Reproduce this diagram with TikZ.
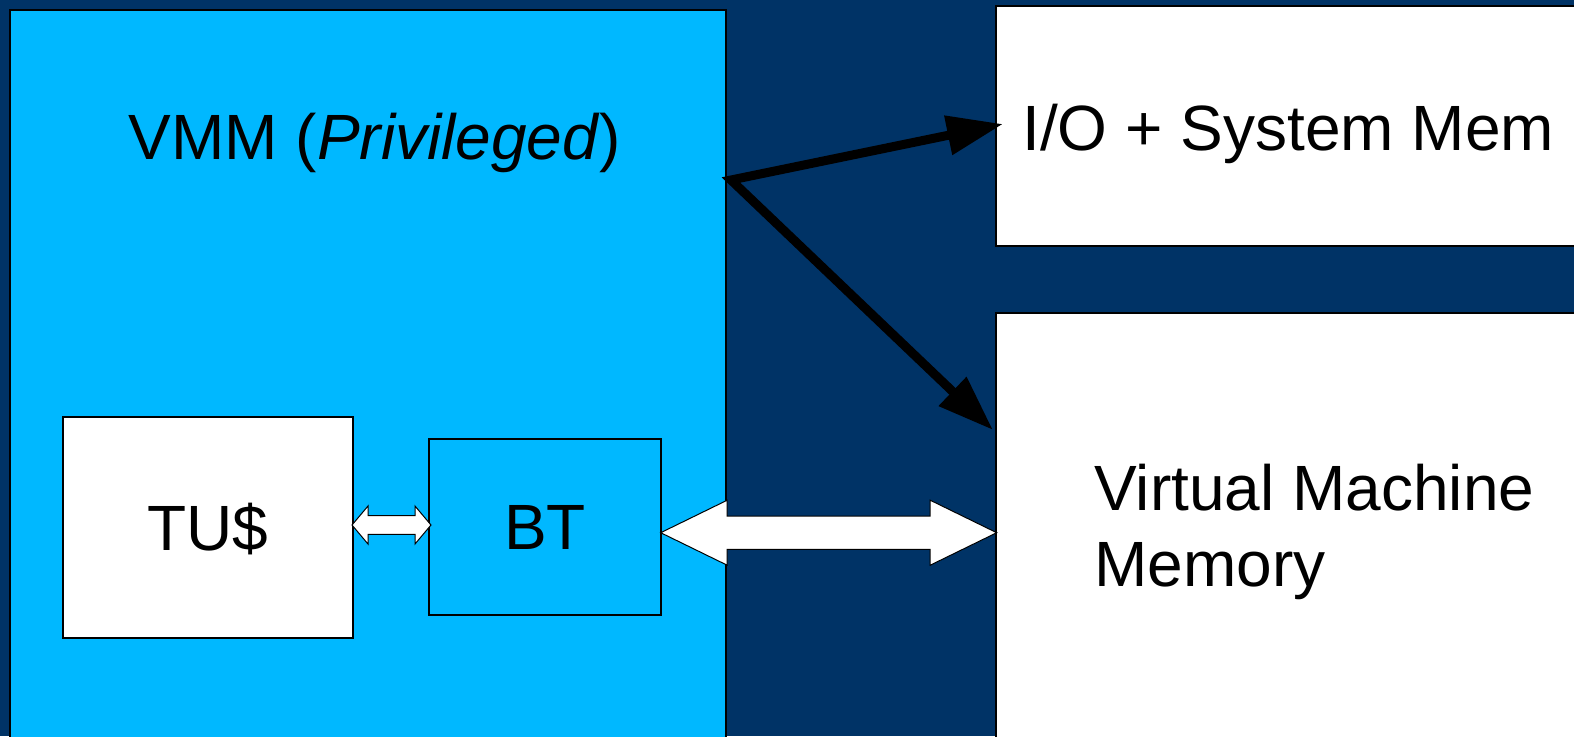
\documentclass[tikz,border=0pt]{standalone}
\usepackage{fontspec}
\setmainfont{Liberation Sans}
\usetikzlibrary{arrows.meta,calc}
\definecolor{navy}{RGB}{0,51,102}
\definecolor{skyc}{RGB}{0,184,255}
\newcommand\dblarr[5]{\draw[warrow] (#1) -- ($(#1)+(#3,#4)$) -- ($(#1)+(#3,#5)$) -- ($(#2)+(-#3,#5)$) -- ($(#2)+(-#3,#4)$) -- (#2) -- ($(#2)+(-#3,-#4)$) -- ($(#2)+(-#3,-#5)$) -- ($(#1)+(#3,-#5)$) -- ($(#1)+(#3,-#4)$) -- cycle;}
\begin{document}
\begin{tikzpicture}[x=0.5pt,y=-0.5pt,
  box/.style={draw=black,line width=0.7pt,anchor=north west,inner sep=0pt,outer sep=0pt},
  big/.style={font=\fontsize{32}{38}\selectfont,inner sep=0pt},
  capbox/.style={text height=22.9pt,text depth=0pt},
  warrow/.style={draw=black,line width=0.5pt,fill=white,line join=miter},
  blk/.style={line width=4.5pt,line join=miter,{Triangle[length=28pt,width=19pt]}-{Triangle[length=28pt,width=19pt]}}]
\fill[navy] (0,0) rectangle (1574,736);
\useasboundingbox (0,0) rectangle (1574,736);
% VMM box
\node[box,fill=skyc,minimum width=358pt,minimum height=380pt] (vmm) at (10,10) {};
\node[big,anchor=base] (vmmlabel) at (375,159.3) {VMM (\textit{Privileged})};
% TU$ and BT
\node[box,fill=white,minimum width=145pt,minimum height=110.5pt] (tus) at (63,417) {};
\node[big,capbox] (tustext) at (tus.center) {TU\$};
\node[box,fill=skyc,minimum width=116pt,minimum height=88pt] (bt) at (429,439) {};
\node[big,capbox] (bttext) at (bt.center) {BT};
% right boxes
\node[box,fill=white,minimum width=300pt,minimum height=120pt] (io) at (996,6) {};
\node[big,anchor=base west] (iotext) at (1022,150) {I/O + System Mem};
\node[box,fill=white,minimum width=300pt,minimum height=250pt] (vm) at (996,313) {};
\node[big,anchor=base west] (vmtext1) at (1094,510) {Virtual Machine};
\node[big,anchor=base west] (vmtext2) at (1094,586) {Memory};
% white double arrows
\coordinate (sA) at (352,525);
\coordinate (sB) at (431,525);
\dblarr{sA}{sB}{16}{19}{9.3}
\coordinate (bA) at (660.7,532.7);
\coordinate (bB) at (996.7,532.7);
\dblarr{bA}{bB}{66.5}{32.5}{16.7}
% black arrows
\coordinate (fork) at (731,180);
\coordinate (ioin) at (1003,124);
\coordinate (vmin) at (993,430);
\draw[blk] (ioin) -- (fork) -- (vmin);
\end{tikzpicture}
\end{document}
